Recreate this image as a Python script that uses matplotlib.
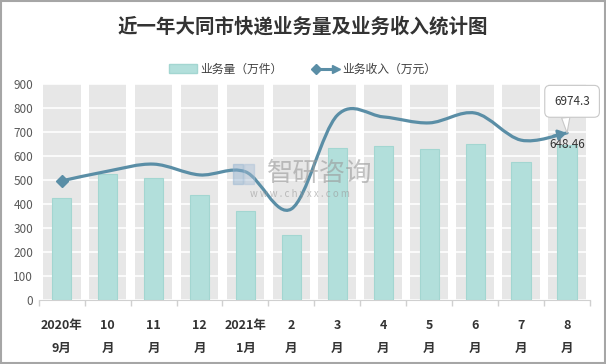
import numpy as np
import matplotlib
matplotlib.use('Agg')
import matplotlib.pyplot as plt
from matplotlib.path import Path
from matplotlib.patches import PathPatch, Rectangle, Patch
from matplotlib.lines import Line2D
from matplotlib.legend_handler import HandlerBase

plt.rcParams['font.family'] = ['Noto Sans CJK SC', 'DejaVu Sans']

# data
months = ['2020年\n9月', '10\n月', '11\n月', '12\n月', '2021年\n1月', '2\n月',
          '3\n月', '4\n月', '5\n月', '6\n月', '7\n月', '8\n月']
volume = [424, 524, 510, 440, 370, 270, 636, 644, 628, 650, 577, 648.46]      # 万件
revenue = [4970, 5375, 5670, 5220, 5350, 3800, 7710, 7640, 7390, 7800, 6670, 6974.3]  # 万元
y_max = 900

bar_color = '#b2dfdb'
line_color = '#5a8ea6'
x = np.arange(len(months))

fig = plt.figure(figsize=(6.06, 3.64), dpi=100)
ax = fig.add_axes([0.0639, 0.1758, 0.9097, 0.5926])

# grey column backgrounds + bars
ax.bar(x, [y_max] * len(x), width=0.82, color='#e7e7e7', zorder=0.2)
ax.bar(x, volume, width=0.42, color=bar_color, edgecolor='#a3d6d1', linewidth=0.8, zorder=2)
ax.set_axisbelow(True)
ax.yaxis.grid(True, color='white', linewidth=1.2)

ax.set_xlim(-0.5, len(x) - 0.5)
ax.set_ylim(0, y_max)
ax.set_yticks(np.arange(0, 901, 100))
ax.tick_params(axis='y', length=0, labelsize=8.5, labelcolor='#595959', pad=4)
ax.set_xticks(x)
ax.set_xticklabels(months, fontsize=9, fontweight='bold', color='#333333', linespacing=1.9)
ax.set_xticks(np.arange(-0.5, len(x), 1), minor=True)
ax.tick_params(axis='x', which='major', length=0, pad=14)
ax.tick_params(axis='x', which='minor', length=4, color='#d0d0d0', width=1)
for s in ['top', 'right', 'left']:
    ax.spines[s].set_visible(False)
ax.spines['bottom'].set_color('#d0d0d0')

ax.text(len(x) - 1, volume[-1], '648.46', ha='center', va='center', fontsize=8.5,
        color='#333333', zorder=5)

# revenue line on hidden secondary axis, smoothed like Excel (Catmull-Rom bezier)
ax2 = ax.twinx()
ax2.set_ylim(0, 9000)
ax2.axis('off')
pts = np.column_stack([x, revenue]).astype(float)
verts = [pts[0]]
codes = [Path.MOVETO]
for i in range(len(pts) - 1):
    p0 = pts[i - 1] if i > 0 else pts[i]
    p1, p2 = pts[i], pts[i + 1]
    p3 = pts[i + 2] if i + 2 < len(pts) else pts[i + 1]
    c1 = p1 + (p2 - p0) / 6
    c2 = p2 - (p3 - p1) / 6
    verts += [c1, c2, p2]
    codes += [Path.CURVE4] * 3
ax2.add_patch(PathPatch(Path(verts, codes), fill=False, edgecolor=line_color,
                        linewidth=2.3, capstyle='round', zorder=3))
ax2.plot(x[0], revenue[0], marker='D', markersize=6, color=line_color, zorder=4)
ax2.annotate('', xy=(x[-1], revenue[-1]), xytext=(x[-1] - 0.3, revenue[-1] - 130),
             arrowprops=dict(arrowstyle='-|>,head_length=0.5,head_width=0.3',
                             color=line_color, lw=2.0, shrinkA=0, shrinkB=0))

# callout label
ax2.annotate('6974.3', xy=(x[-1], revenue[-1]), xytext=(x[-1] + 0.11, 8290),
             ha='center', va='center', fontsize=8.5, color='#333333',
             bbox=dict(boxstyle='round,pad=0.8,rounding_size=0.45', fc='white', ec='#c8c8c8', lw=0.8),
             arrowprops=dict(arrowstyle='wedge,tail_width=0.7,shrink_factor=0.5',
                             fc='white', ec='#c8c8c8', lw=0.8, shrinkA=0, shrinkB=0,
                             relpos=(0.3, 0.0)),
             zorder=6, annotation_clip=False)

# watermark
fig.patches.append(Rectangle((0.385, 0.495), 0.016, 0.055, transform=fig.transFigure,
                             color='#8fb0d0', alpha=0.45, zorder=10))
fig.patches.append(Rectangle((0.403, 0.495), 0.016, 0.055, transform=fig.transFigure,
                             color='#a8bfd6', alpha=0.45, zorder=10))
fig.text(0.527, 0.525, '智研咨询', ha='center', va='center', fontsize=19,
         color='#9a9a9a', alpha=0.6, zorder=11)
fig.text(0.4955, 0.466, 'w w w . c h y x x . c o m', ha='center', va='center',
         fontsize=7, color='#9a9a9a', alpha=0.6, zorder=11)

# title
fig.text(0.5, 0.928, '近一年大同市快递业务量及业务收入统计图', ha='center', va='center',
         fontsize=14, fontweight='bold', color='#333333')


# legend
class ArrowLineHandler(HandlerBase):
    def create_artists(self, legend, orig, xdescent, ydescent, width, height, fontsize, trans):
        y = height / 2 - ydescent
        ln = Line2D([-xdescent + 3, width - xdescent - 3], [y, y], color=line_color, lw=2.2, transform=trans)
        m1 = Line2D([-xdescent + 3], [y], marker='D', markersize=5, color=line_color, transform=trans)
        m2 = Line2D([width - xdescent - 2], [y], marker='>', markersize=5.5, color=line_color, transform=trans)
        return [ln, m1, m2]


h_bar = Patch(facecolor=bar_color, edgecolor='#a3d6d1')
h_line = Line2D([], [], color=line_color)
fig.legend([h_bar, h_line], ['业务量（万件）', '业务收入（万元）'], loc='center',
           bbox_to_anchor=(0.5, 0.81), ncol=2, frameon=False, fontsize=8.5,
           handlelength=2.3, handleheight=0.7, columnspacing=2.5, handletextpad=0.3,
           labelcolor='#404040', handler_map={h_line: ArrowLineHandler()})

# outer border
fig.patches.append(Rectangle((0.0015, 0.002), 0.997, 0.996, transform=fig.transFigure,
                             fill=False, edgecolor='#a6a6a6', linewidth=1.5))

fig.savefig('out.png', dpi=100)
